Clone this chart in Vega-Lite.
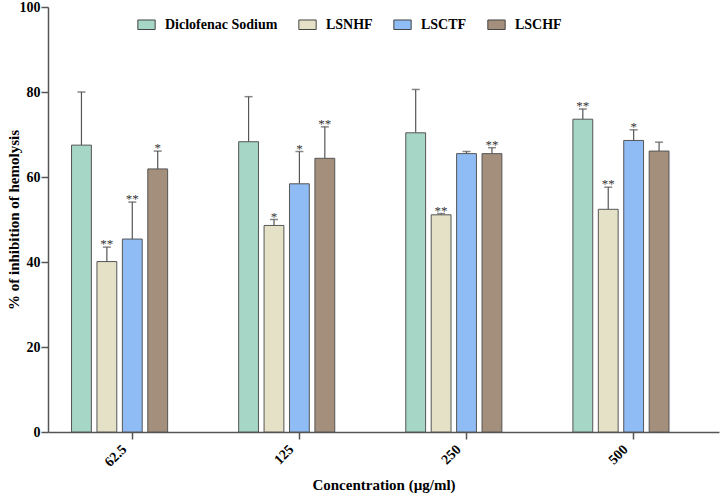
{
  "$schema": "https://vega.github.io/schema/vega-lite/v6.json",
  "autosize": {"type": "none"},
  "width": 671,
  "height": 425,
  "padding": {"left": 48, "top": 7, "right": 5, "bottom": 70},
  "background": "white",
  "config": {
    "view": {"stroke": null},
    "font": "Liberation Serif",
    "axis": {"grid": false, "domainColor": "#555", "domainWidth": 1.5, "tickColor": "#555", "tickWidth": 1.5, "tickSize": 7,
      "labelFont": "Liberation Serif", "labelFontWeight": "bold", "labelFontSize": 14, "labelColor": "#000",
      "titleFont": "Liberation Serif", "titleFontWeight": "bold", "titleFontSize": 15, "titleColor": "#000"}
  },
  "data": {"values": [
    {"Concentration": "62.5", "Series": "Diclofenac Sodium", "value": 67.5, "upper": 80.0, "sig": ""},
    {"Concentration": "62.5", "Series": "LSNHF", "value": 40.1, "upper": 43.5, "sig": "**"},
    {"Concentration": "62.5", "Series": "LSCTF", "value": 45.4, "upper": 54.1, "sig": "**"},
    {"Concentration": "62.5", "Series": "LSCHF", "value": 61.9, "upper": 66.1, "sig": "*"},
    {"Concentration": "125", "Series": "Diclofenac Sodium", "value": 68.3, "upper": 78.9, "sig": ""},
    {"Concentration": "125", "Series": "LSNHF", "value": 48.6, "upper": 50.0, "sig": "*"},
    {"Concentration": "125", "Series": "LSCTF", "value": 58.4, "upper": 66.0, "sig": "*"},
    {"Concentration": "125", "Series": "LSCHF", "value": 64.4, "upper": 71.8, "sig": "**"},
    {"Concentration": "250", "Series": "Diclofenac Sodium", "value": 70.4, "upper": 80.6, "sig": ""},
    {"Concentration": "250", "Series": "LSNHF", "value": 51.1, "upper": 51.4, "sig": "**"},
    {"Concentration": "250", "Series": "LSCTF", "value": 65.5, "upper": 66.0, "sig": ""},
    {"Concentration": "250", "Series": "LSCHF", "value": 65.5, "upper": 66.9, "sig": "**"},
    {"Concentration": "500", "Series": "Diclofenac Sodium", "value": 73.6, "upper": 76.0, "sig": "**"},
    {"Concentration": "500", "Series": "LSNHF", "value": 52.4, "upper": 57.6, "sig": "**"},
    {"Concentration": "500", "Series": "LSCTF", "value": 68.6, "upper": 71.1, "sig": "*"},
    {"Concentration": "500", "Series": "LSCHF", "value": 66.1, "upper": 68.2, "sig": ""}
  ]},
  "encoding": {
    "x": {"field": "Concentration", "type": "nominal", "sort": ["62.5", "125", "250", "500"],
      "scale": {"paddingInner": 0.425, "paddingOuter": 0.22, "align": 0.32},
      "axis": {"title": "Concentration (µg/ml)", "labelAngle": -45, "bandPosition": 0.63, "labelPadding": 3, "titlePadding": 8}},
    "xOffset": {"field": "Series", "type": "nominal", "sort": ["Diclofenac Sodium", "LSNHF", "LSCTF", "LSCHF"],
      "scale": {"paddingInner": 0.22, "paddingOuter": 0}}
  },
  "layer": [
    {
      "mark": {"type": "rule", "color": "#555", "strokeWidth": 1.2},
      "encoding": {
        "y": {"field": "value", "type": "quantitative"},
        "y2": {"field": "upper"}
      }
    },
    {
      "mark": {"type": "tick", "color": "#555", "size": 8, "thickness": 1.5, "orient": "horizontal"},
      "encoding": {
        "y": {"field": "upper", "type": "quantitative"}
      }
    },
    {
      "mark": {"type": "bar", "stroke": "#555", "strokeWidth": 1, "width": {"band": 1}},
      "encoding": {
        "y": {"field": "value", "type": "quantitative", "scale": {"domain": [0, 100], "nice": false},
          "axis": {"title": "% of  inhibition of hemolysis", "values": [0, 20, 40, 60, 80, 100], "titlePadding": -2, "labelPadding": 1}},
        "color": {"field": "Series", "type": "nominal", "sort": ["Diclofenac Sodium", "LSNHF", "LSCTF", "LSCHF"],
          "scale": {"domain": ["Diclofenac Sodium", "LSNHF", "LSCTF", "LSCHF"], "range": ["#a6d6c6", "#e4e1c6", "#8fbcf5", "#a38f7c"]},
          "legend": {"title": null, "orient": "none", "legendX": 89, "legendY": 8, "direction": "horizontal",
            "symbolType": "M-1,-0.55H1V0.55H-1Z", "symbolSize": 300, "symbolStrokeColor": "#444", "symbolStrokeWidth": 1,
            "labelFont": "Liberation Serif", "labelFontWeight": "bold", "labelFontSize": 14, "labelColor": "#000",
            "labelOffset": 9, "columnPadding": 18, "symbolOpacity": 1}}
      }
    },
    {
      "mark": {"type": "text", "fill": "#333", "fontSize": 13, "baseline": "alphabetic", "dy": 1},
      "encoding": {
        "y": {"field": "upper", "type": "quantitative"},
        "text": {"field": "sig"}
      }
    }
  ]
}
